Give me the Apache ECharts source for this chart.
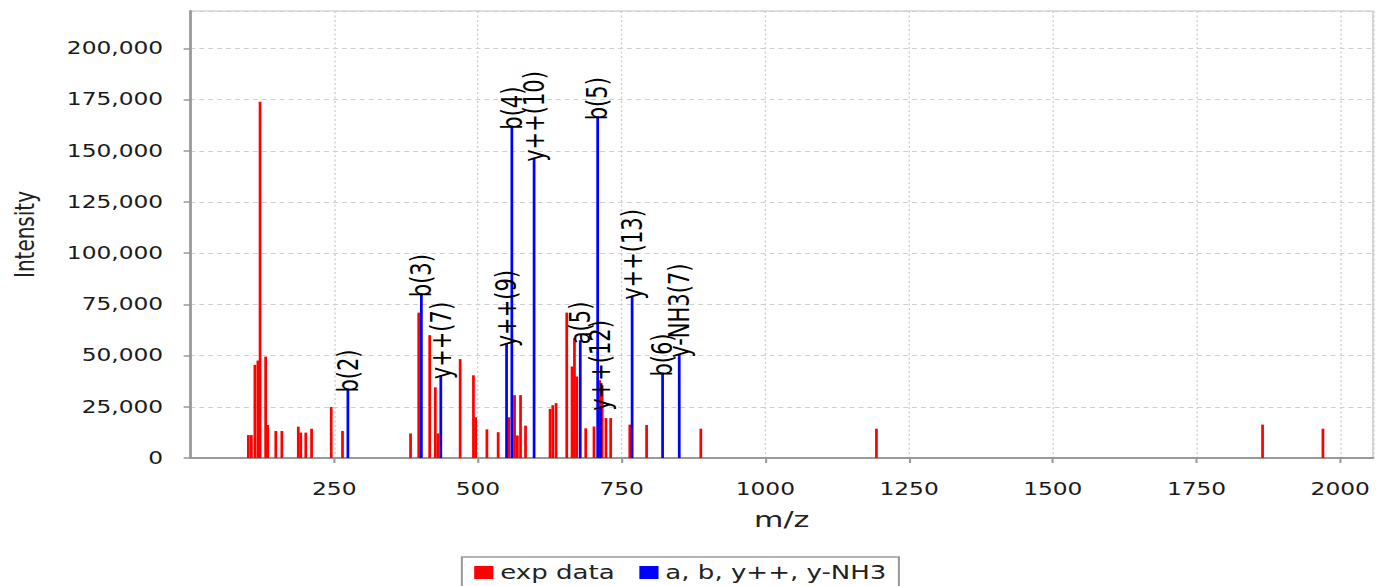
<!DOCTYPE html>
<html>
<head>
<meta charset="utf-8">
<script src="https://cdn.jsdelivr.net/npm/echarts@6/dist/echarts.min.js"></script>
<style>
html, body { margin: 0; padding: 0; background: #fff; overflow: hidden; }
/* the source picture is stretched sideways, so draw narrow and stretch the same way */
#chart { width: 1004px; height: 586px; transform: scaleX(1.37052); transform-origin: 0 0; }
</style>
</head>
<body>
<div id="chart"></div>
<script>
// experimental peaks
var expMz = [100.7, 105.9, 112, 117.2, 121, 130.7, 134.5, 148.4, 158.9, 187.5, 191.8, 200.5, 210.6,
    244.8, 264.4, 382.8, 397, 416.1, 425.9, 430.6, 469.1, 492.2, 496, 515.6, 535.2, 553.8, 563.7,
    568.6, 574.1, 582.8, 625.5, 630.2, 635.9, 654.5, 663.7, 667.9, 671.9, 687.5, 701.9, 711.8,
    716.1, 722.7, 730.9, 764.2, 793.4, 887.7, 1193.2, 1864.9, 1969.9];
var expInt = [11200, 11200, 45500, 47600, 174000, 49500, 16100, 13200, 13200, 15300, 12400, 12400, 14300,
    24900, 13200, 12000, 71000, 60000, 34500, 12000, 48300, 40400, 19900, 14000, 12600, 19900, 30700,
    11000, 30700, 15800, 24000, 25800, 26800, 71000, 44700, 58500, 39800, 14500, 15400, 38000,
    35500, 19500, 19500, 16300, 16100, 14300, 14300, 16300, 14300];

// matched fragment ions
var ionMz = [273.8, 401.6, 435.4, 549.8, 559, 597.7, 678, 708.3, 713.5, 768.2, 821.2, 850.2];
var ionInt = [33900, 80500, 40400, 56000, 162300, 146600, 57500, 166900, 25000, 79200, 41700, 50900];
var ionLabels = ['b(2)', 'b(3)', 'y++(7)', 'y++(9)', 'b(4)', 'y++(10)', 'a(5)', 'b(5)', 'y++(12)',
    'y++(13)', 'b(6)', 'y-NH3(7)'];

var xStep = 250;
var yStep = 25000;

var font = 'DejaVu Sans';

var chart = echarts.init(document.getElementById('chart'), null, { renderer: 'svg' });

var option = {
    animation: false,
    backgroundColor: '#fff',
    grid: {
        left: 137.2,
        right: 2.2,
        top: 11,
        bottom: 128,
        show: true,
        borderColor: '#c4c4c4',
        borderWidth: 1,
        backgroundColor: '#fff'
    },
    legend: {
        left: 337,
        top: 557,
        padding: [6, 9, 12, 9],
        borderColor: '#9a9a9a',
        borderWidth: 1.5,
        itemWidth: 14,
        itemHeight: 13,
        itemGap: 18,
        icon: 'rect',
        textStyle: { fontFamily: font, fontSize: 19, color: '#222' },
        data: ['exp data', 'a, b, y++, y-NH3']
    },
    xAxis: {
        type: 'value',
        min: 0,
        max: 2057,
        interval: xStep,
        offset: 8,
        name: 'm/z',
        nameLocation: 'middle',
        nameGap: 42,
        nameTextStyle: { fontFamily: font, fontSize: 22, color: '#222' },
        axisLine: { show: true, lineStyle: { color: '#999', width: 2 } },
        axisTick: { show: true, length: 5, lineStyle: { color: '#999', width: 1.5 } },
        axisLabel: {
            fontFamily: font, fontSize: 17, color: '#1a1a1a', margin: 15,
            showMinLabel: false, showMaxLabel: false,
            formatter: function (v) { return String(v); }
        },
        splitLine: { show: true, lineStyle: { color: '#cfcfcf', type: [2, 2.5], width: 1 } }
    },
    yAxis: {
        type: 'value',
        min: 0,
        max: 218300,
        interval: yStep,
        offset: 5,
        name: 'Intensity',
        nameLocation: 'middle',
        nameGap: 106,
        nameTextStyle: { fontFamily: font, fontSize: 20, color: '#222' },
        axisLine: { show: true, lineStyle: { color: '#999', width: 2 } },
        axisTick: { show: true, length: 5, lineStyle: { color: '#999', width: 1.5 } },
        axisLabel: {
            fontFamily: font, fontSize: 17, color: '#1a1a1a', margin: 15,
            showMaxLabel: false,
            formatter: function (v) { return v.toLocaleString('en-US'); }
        },
        splitLine: { show: true, lineStyle: { color: '#cfcfcf', type: [3.5, 3], width: 1 } }
    },
    series: [{
        name: 'exp data',
        type: 'bar',
        barWidth: 2,
        barGap: '-100%',
        itemStyle: { color: '#ff0000' },
        data: expMz.map(function (m, i) { return [m, expInt[i]]; })
    }, {
        name: 'a, b, y++, y-NH3',
        type: 'bar',
        barWidth: 2,
        barGap: '-100%',
        itemStyle: { color: '#0000ff' },
        label: {
            show: true,
            position: 'top',
            rotate: 90,
            align: 'left',
            verticalAlign: 'middle',
            distance: -6,
            offset: [2, 0],
            fontFamily: font,
            fontSize: 21,
            color: '#000',
            formatter: function (p) { return p.name; }
        },
        data: ionMz.map(function (m, i) {
            return { name: ionLabels[i], value: [m, ionInt[i]] };
        })
    }]
};

chart.setOption(option);
</script>
</body>
</html>
